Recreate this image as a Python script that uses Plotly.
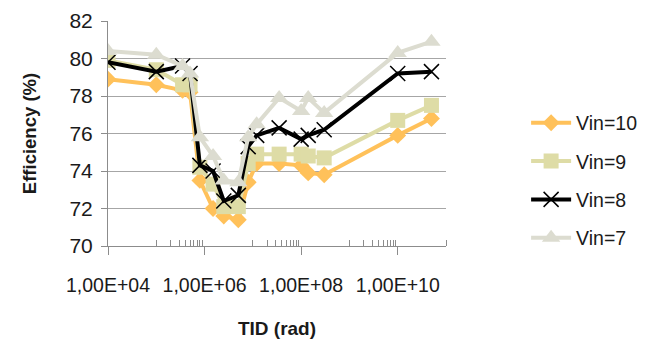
import plotly.graph_objects as go

# Total ionizing dose (rad) at each measurement
tid_rad = [1e4, 1e5, 3.5e5, 5e5, 8e5, 1.5e6, 2.5e6, 5e6, 8e6, 1.2e7,
           3.5e7, 1e8, 1.4e8, 3e8, 1e10, 5e10]

# Converter efficiency (%) for each input voltage
eff_vin10 = [78.9, 78.6, 78.3, 78.2, 73.5, 72.0, 71.6, 71.4, 73.4, 74.4,
             74.4, 74.3, 73.9, 73.8, 75.9, 76.8]
eff_vin9 = [79.9, 79.4, 78.6, 78.6, 74.2, 73.3, 72.1, 72.1, 74.4, 74.9,
            74.9, 74.9, 74.8, 74.7, 76.7, 77.5]
eff_vin8 = [79.8, 79.3, 79.6, 79.2, 74.3, 74.0, 72.4, 72.7, 75.3, 75.9,
            76.3, 75.7, 75.9, 76.2, 79.2, 79.3]
eff_vin7 = [80.4, 80.2, 79.6, 79.2, 75.8, 74.8, 73.5, 73.4, 75.8, 76.5,
            77.9, 77.2, 77.9, 77.1, 80.3, 80.9]

series_names = ["Vin=10", "Vin=9", "Vin=8", "Vin=7"]

x_major = [1e4, 1e6, 1e8, 1e10]
x_major_text = ["1,00E+04", "1,00E+06", "1,00E+08", "1,00E+10"]
x_minor = [m * 10 ** e for e in (5, 7, 9) for m in range(1, 10)] + [1e11]

FONT = "Liberation Sans"
AXIS_GREY = "#8c8c8c"

styles = [
    dict(color="#FFC15A", symbol="diamond", size=13, line_w=0),
    dict(color="#DEDCA6", symbol="square", size=15, line_w=0),
    dict(color="#000000", symbol="x-thin", size=15, line_w=1.5),
    dict(color="#DCDCD0", symbol="triangle-up", size=16, line_w=0),
]

fig = go.Figure()
for name, ys, st in zip(series_names,
                        [eff_vin10, eff_vin9, eff_vin8, eff_vin7], styles):
    fig.add_trace(go.Scatter(
        x=tid_rad, y=ys, name=name, mode="lines+markers",
        legendgroup=name,
        line=dict(color=st["color"], width=4),
        marker=dict(symbol=st["symbol"], size=st["size"], color=st["color"],
                    line=dict(color=st["color"], width=st["line_w"])),
    ))

fig.update_layout(
    width=661, height=339,
    margin=dict(l=108, r=215, t=21, b=93),
    paper_bgcolor="white", plot_bgcolor="white",
    font=dict(family=FONT, size=18, color="#1a1a1a"),
    legend=dict(x=1.237, xanchor="left", y=0.291, yanchor="middle",
                xref="paper", yref="paper",
                font=dict(family=FONT, size=19.5, color="#1a1a1a"),
                tracegroupgap=10, itemwidth=40, bgcolor="rgba(0,0,0,0)"),
    showlegend=True,
)

fig.update_xaxes(
    type="log", range=[4, 11], automargin=False,
    tickmode="array", tickvals=x_major, ticktext=x_major_text,
    ticks="outside", ticklen=8, tickcolor=AXIS_GREY, tickwidth=1,
    ticklabelstandoff=14,
    tickfont=dict(family=FONT, size=19.5, color="#1a1a1a"),
    showgrid=False, showline=True, linecolor=AXIS_GREY, linewidth=1,
    zeroline=False,
    minor=dict(tickmode="array", tickvals=x_minor, ticks="inside",
               ticklen=6, tickcolor=AXIS_GREY, tickwidth=1, showgrid=False),
    title=dict(text="<b>TID (rad)</b>", standoff=26,
               font=dict(family=FONT, size=19, color="#1a1a1a")),
)

fig.update_yaxes(
    range=[70, 82], dtick=2, tick0=70, automargin=False,
    ticks="outside", ticklen=6, tickcolor=AXIS_GREY,
    ticklabelstandoff=4,
    tickfont=dict(family=FONT, size=21, color="#1a1a1a"),
    showgrid=True, gridcolor="#a6a6a6", gridwidth=1,
    showline=True, linecolor=AXIS_GREY, linewidth=1, zeroline=False,
    title=dict(text="<b>Efficiency (%)</b>", standoff=27,
               font=dict(family=FONT, size=18.5, color="#1a1a1a")),
)

fig.write_html("out.html")
